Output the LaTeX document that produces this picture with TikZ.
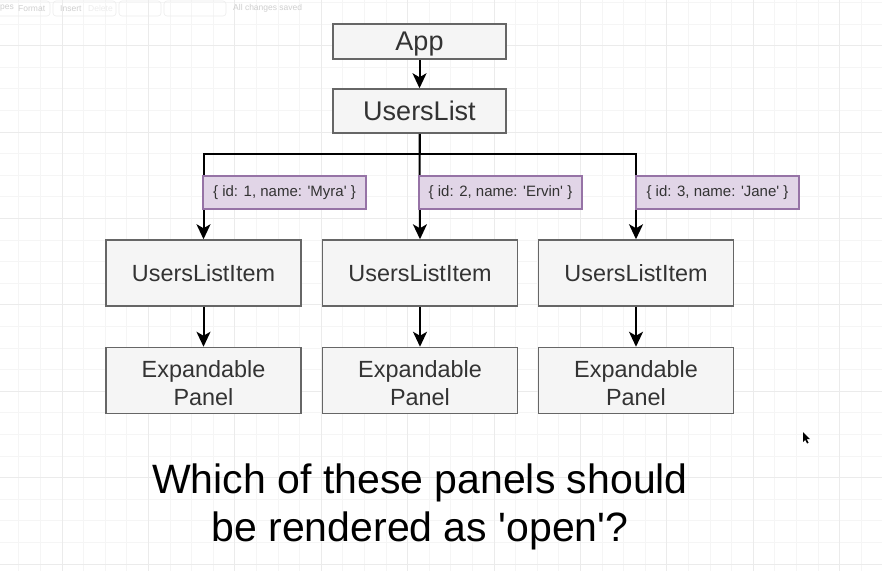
\documentclass[tikz,border=0pt]{standalone}
\usepackage{fontspec}
\setmainfont{Liberation Sans}[Ligatures=TeXOff]
\usetikzlibrary{arrows.meta,calc}
\definecolor{boxfill}{HTML}{F5F5F5}
\definecolor{boxdraw}{HTML}{666666}
\definecolor{boxtext}{HTML}{333333}
\definecolor{lblfill}{HTML}{E1D5E7}
\definecolor{lbldraw}{HTML}{9673A6}
\definecolor{gridminor}{HTML}{F5F5F5}
\definecolor{gridmajor}{HTML}{EBEBEB}
\definecolor{tbtext}{HTML}{CFCFCF}
\definecolor{tbfaint}{HTML}{EDEDED}
\tikzset{
  compbox/.style={draw=boxdraw, fill=boxfill, line width=1.5pt, inner sep=0pt,
    text=boxtext, align=center, minimum width=195pt, minimum height=66pt,
    font=\fontsize{23.4}{27.4}\selectfont},
  panelbox/.style={compbox, text height=49.5pt, text depth=0pt},
  topbox/.style={compbox, minimum width=173pt, font=\fontsize{27}{32}\selectfont},
  lblbox/.style={draw=lbldraw, fill=lblfill, line width=1.5pt, inner sep=0pt,
    text=boxtext, minimum width=163pt, minimum height=33pt,
    font=\fontsize{15}{18}\selectfont},
  conn/.style={draw=black, line width=2pt,
    -{Stealth[length=15pt,width=14pt,inset=4pt]}},
  tbtxt/.style={text=tbtext, inner sep=0pt, anchor=west, font=\fontsize{8.5}{10}\selectfont},
  tbgroup/.style={draw=tbfaint, line width=0.6pt, rounded corners=3pt}
}
\begin{document}
\begin{tikzpicture}[x=1pt,y=-1pt]
\useasboundingbox (0,0) rectangle (882,571);
\fill[white] (0,0) rectangle (882,571);
% grid
\foreach \i in {-3,...,38} {
  \draw[gridminor, line width=0.8pt] ({62+21.6*\i},0) -- ({62+21.6*\i},571);
}
\foreach \j in {-6,...,21} {
  \draw[gridminor, line width=0.8pt] (0,{132+21.6*\j}) -- (882,{132+21.6*\j});
}
\foreach \i in {0,...,9} {
  \draw[gridmajor, line width=0.8pt] ({62+86.4*\i},0) -- ({62+86.4*\i},571);
}
\foreach \j in {-1,...,5} {
  \draw[gridmajor, line width=0.8pt] (0,{132+86.4*\j}) -- (882,{132+86.4*\j});
}
% toolbar
\draw[tbgroup] (-5,1) rectangle (50,16);
\draw[tbgroup] (53,1) rectangle (116,16);
\draw[tbgroup] (119,1) rectangle (161,16);
\draw[tbgroup] (164,1) rectangle (226,16);
\node[tbtxt] (tb1) at (0,8.5) {pes};
\node[tbtxt] (tb2) at (18,8.5) {Format};
\node[tbtxt] (tb3) at (60,8.5) {Insert};
\node[tbtxt, text=tbfaint] (tb4) at (88,8.5) {Delete};
\node[tbtxt] (tb5) at (233,8.5) {All changes saved};
% nodes
\node[topbox, minimum height=35pt, text height=24pt, text depth=5.7pt] (app) at (419.5,41.5) {App};
\node[topbox, minimum height=44pt] (ul) at (419.5,111) {UsersList};
\node[compbox] (li1) at (203.5,273) {UsersListItem};
\node[compbox] (li2) at (420,273) {UsersListItem};
\node[compbox] (li3) at (636,273) {UsersListItem};
\node[panelbox] (ep1) at (203.5,380.5) {Expandable\\Panel};
\node[panelbox] (ep2) at (420,380.5) {Expandable\\Panel};
\node[panelbox] (ep3) at (636,380.5) {Expandable\\Panel};
\coordinate (bus) at (419.5,154);
% connectors
\draw[conn] (app) -- (ul);
\draw[conn] (ul.south) -- (ul.south |- bus) -| (li1.north);
\draw[conn] (ul.south) -- (li2.north);
\draw[conn] (ul.south) -- (ul.south |- bus) -| (li3.north);
\draw[conn] (li1) -- (ep1);
\draw[conn] (li2) -- (ep2);
\draw[conn] (li3) -- (ep3);
% labels
\node[lblbox] (l1) at (284.5,192.5) {\{ id: 1, name: 'Myra' \}};
\node[lblbox] (l2) at (500.5,192.5) {\{ id: 2, name: 'Ervin' \}};
\node[lblbox] (l3) at (717.5,192.5) {\{ id: 3, name: 'Jane' \}};
% question
\node[align=center, inner sep=0pt, anchor=base, font=\fontsize{41}{48}\selectfont] (q) at (420,541) {Which of these panels should\\be rendered as 'open'?};
% cursor
\fill[black] (803,432) -- (803,442) -- (805.2,439.8) -- (807,443.5) -- (808.6,442.8) -- (806.8,439.2) -- (810,439.2) -- cycle;
\end{tikzpicture}
\end{document}
